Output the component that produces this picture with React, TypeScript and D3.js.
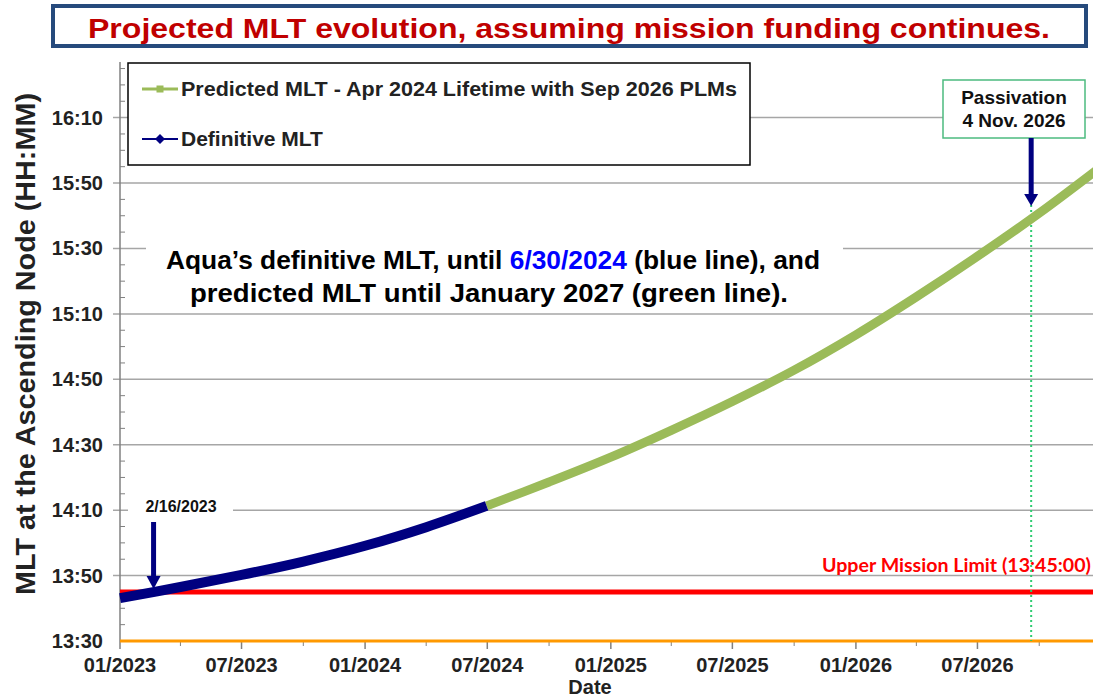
import React from 'react';
import * as d3 from 'd3';

// MLT values are minutes after midnight
const definitiveDates = ['2023-01-01', '2023-04-01', '2023-07-01', '2023-10-01', '2024-01-01', '2024-04-01', '2024-06-30'];
const definitiveMLT = [823.1, 826.5, 830.2, 834.3, 839.1, 844.8, 851.3];

const predictedDates = ['2024-06-30', '2024-10-01', '2025-01-01', '2025-04-01', '2025-07-01', '2025-10-01', '2026-01-01', '2026-04-01', '2026-07-01', '2026-10-01', '2027-01-01'];
const predictedMLT = [851.3, 858.6, 866.2, 874.4, 883.2, 892.8, 903.6, 915.2, 927.6, 940.8, 955.0];

const yTicks = [810, 830, 850, 870, 890, 910, 930, 950, 970];
const xTickDates = ['2023-01-01', '2023-07-01', '2024-01-01', '2024-07-01', '2025-01-01', '2025-07-01', '2026-01-01', '2026-07-01'];
const xMinorDates = ['2023-04-01', '2023-10-01', '2024-04-01', '2024-10-01', '2025-04-01', '2025-10-01', '2026-04-01', '2026-10-01'];

const upperLimit = 825; // 13:45:00
const lowerLimit = 810; // 13:30
const passivationDate = '2026-09-19';
const markerDate = '2023-02-20';

const W = 1093;
const H = 697;
const font = '"Liberation Sans", Arial, sans-serif';
const narrow = '"Liberation Sans Narrow", "Arial Narrow", "Liberation Sans", Arial, sans-serif';

const parse = (s: string) => new Date(s + 'T00:00:00');
const fmtMLT = (m: number) => `${Math.floor(m / 60)}:${String(m % 60).padStart(2, '0')}`;
const fmtDate = d3.timeFormat('%m/%Y');

export default function App() {
  const x = d3.scaleTime().domain([parse('2023-01-01'), parse('2027-01-01')]).range([120, 1101]);
  const y = d3.scaleLinear().domain([810, 987]).range([641, 62]);

  const line = d3
    .line<[Date, number]>()
    .x((d) => x(d[0]))
    .y((d) => y(d[1]))
    .curve(d3.curveCatmullRom);

  const defData: [Date, number][] = definitiveDates.map((d, i) => [parse(d), definitiveMLT[i]]);
  const predData: [Date, number][] = predictedDates.map((d, i) => [parse(d), predictedMLT[i]]);

  const minorY = d3.range(815, 987, 5).filter((v) => (v - 810) % 20 !== 0);
  const px = x(parse(passivationDate));
  const mx = x(parse(markerDate));

  return (
    <svg width={W} height={H} style={{ position: 'absolute', left: 0, top: 0, background: '#fff' }}>
      <rect width={W} height={H} fill="#fff" />

      {/* title */}
      <rect x={53} y={6} width={1033} height={40} fill="#fff" stroke="#264a7c" strokeWidth={4} />
      <text x={569} y={38} textAnchor="middle" fontFamily={narrow} fontWeight="bold" fontSize={27} fill="#c00000" textLength={962} lengthAdjust="spacingAndGlyphs">
        Projected MLT evolution, assuming mission funding continues.
      </text>

      {/* gridlines */}
      {yTicks.slice(1).map((t) => (
        <line key={t} x1={113} x2={W} y1={y(t)} y2={y(t)} stroke="#a6a6a6" strokeWidth={1.5} />
      ))}
      {/* axis */}
      <line x1={120} x2={120} y1={62} y2={641} stroke="#808080" strokeWidth={1.5} />
      {minorY.map((t) => (
        <line key={t} x1={120} x2={125} y1={y(t)} y2={y(t)} stroke="#808080" strokeWidth={1} />
      ))}
      {xTickDates.map((d) => (
        <line key={d} x1={x(parse(d))} x2={x(parse(d))} y1={641} y2={649} stroke="#808080" strokeWidth={1.5} />
      ))}
      {xMinorDates.map((d) => (
        <line key={d} x1={x(parse(d))} x2={x(parse(d))} y1={641} y2={646} stroke="#808080" strokeWidth={1} />
      ))}

      {/* tick labels */}
      {yTicks.map((t) => (
        <text key={t} x={103} y={y(t) + 7} textAnchor="end" fontFamily={font} fontWeight="bold" fontSize={20} fill="#222">
          {fmtMLT(t)}
        </text>
      ))}
      {xTickDates.map((d) => (
        <text key={d} x={x(parse(d))} y={672} textAnchor="middle" fontFamily={font} fontWeight="bold" fontSize={20} fill="#222">
          {fmtDate(parse(d))}
        </text>
      ))}
      <text x={590} y={694} textAnchor="middle" fontFamily={font} fontWeight="bold" fontSize={20} fill="#222">Date</text>
      <text transform="translate(35,344) rotate(-90)" textAnchor="middle" fontFamily={font} fontWeight="bold" fontSize={27} fill="#222" textLength={502} lengthAdjust="spacingAndGlyphs">
        MLT at the Ascending Node (HH:MM)
      </text>

      {/* annotation text */}
      <rect x={146} y={241} width={697} height={71} fill="#fff" />
      <text x={493} y={269} textAnchor="middle" fontFamily={narrow} fontWeight="bold" fontSize={25} fill="#000" textLength={654} lengthAdjust="spacingAndGlyphs">
        Aqua’s definitive MLT, until <tspan fill="#0000ff">6/30/2024</tspan> (blue line), and
      </text>
      <text x={489} y={302} textAnchor="middle" fontFamily={narrow} fontWeight="bold" fontSize={25} fill="#000" textLength={598} lengthAdjust="spacingAndGlyphs">
        predicted MLT until January 2027 (green line).
      </text>

      {/* legend */}
      <rect x={128} y={63} width={622} height={102} fill="#fff" stroke="#000" strokeWidth={1.5} />
      <line x1={142} x2={178} y1={89} y2={89} stroke="#9bbb59" strokeWidth={3} />
      <rect x={156.5} y={85.5} width={7} height={7} fill="#9bbb59" />
      <text x={181} y={96} fontFamily={font} fontWeight="bold" fontSize={21} fill="#222" textLength={556} lengthAdjust="spacingAndGlyphs">
        Predicted MLT - Apr 2024 Lifetime with Sep 2026 PLMs
      </text>
      <line x1={142} x2={178} y1={139} y2={139} stroke="#000080" strokeWidth={2} />
      <path d="M160,134 L165,139 L160,144 L155,139 Z" fill="#000080" />
      <text x={181} y={146} fontFamily={font} fontWeight="bold" fontSize={21} fill="#222">
        Definitive MLT
      </text>

      {/* limits */}
      <line x1={120} x2={W} y1={y(upperLimit)} y2={y(upperLimit)} stroke="#ff0000" strokeWidth={5} />
      <line x1={120} x2={W} y1={y(lowerLimit)} y2={y(lowerLimit)} stroke="#ff9900" strokeWidth={3} />
      <text x={1091} y={572} textAnchor="end" fontFamily="Lato, 'Open Sans', sans-serif" fontWeight="bold" fontSize={18} fill="#ff0000" textLength={269} lengthAdjust="spacingAndGlyphs">
        Upper Mission Limit (13:45:00)
      </text>

      {/* passivation */}
      <line x1={px} x2={px} y1={205} y2={641} stroke="#2ecc71" strokeWidth={2} strokeDasharray="2,3" />
      <rect x={943} y={80} width={142} height={58} fill="#fff" stroke="#4cbb7f" strokeWidth={1.5} />
      <text x={1014} y={104} textAnchor="middle" fontFamily={font} fontWeight="bold" fontSize={19} fill="#111">Passivation</text>
      <text x={1014} y={127} textAnchor="middle" fontFamily={font} fontWeight="bold" fontSize={19} fill="#111">4 Nov. 2026</text>

      {/* data lines */}
      <path d={line(predData) || ''} fill="none" stroke="#9bbb59" strokeWidth={9} />
      <path d={line(defData) || ''} fill="none" stroke="#000080" strokeWidth={10} />

      {/* arrows */}
      <line x1={px} x2={px} y1={138} y2={196} stroke="#000080" strokeWidth={5} />
      <path d={`M${px - 7},194 L${px + 7},194 L${px},206 Z`} fill="#000080" />

      <rect x={128} y={496} width={105} height={24} fill="#fff" />
      <text x={181} y={512} textAnchor="middle" fontFamily={font} fontWeight="bold" fontSize={16} fill="#111">2/16/2023</text>
      <line x1={mx} x2={mx} y1={522} y2={578} stroke="#000080" strokeWidth={5} />
      <path d={`M${mx - 7},576 L${mx + 7},576 L${mx},589 Z`} fill="#000080" />
    </svg>
  );
}
